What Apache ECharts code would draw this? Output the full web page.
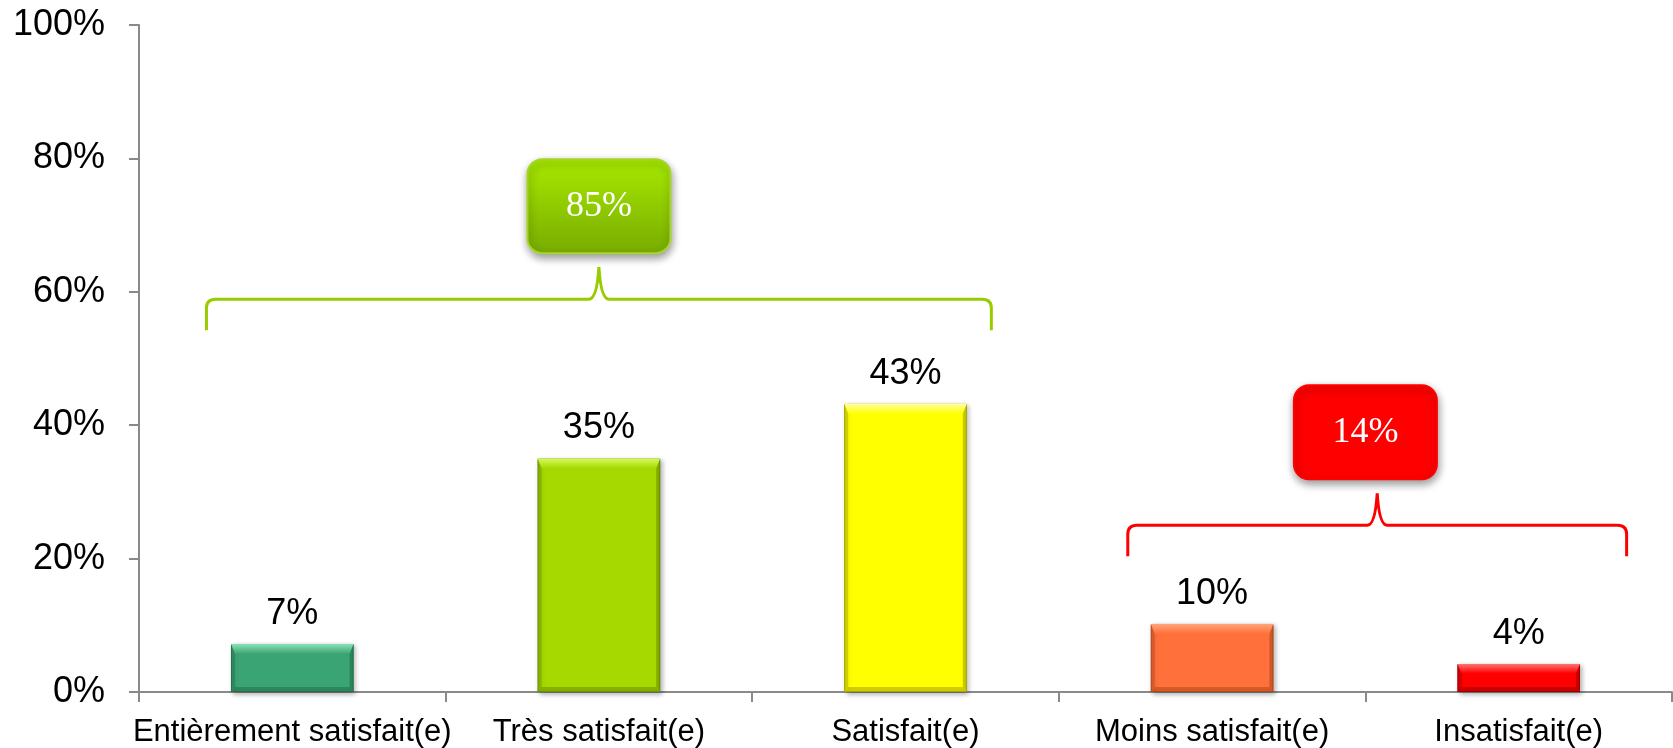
<!DOCTYPE html>
<html>
<head>
<meta charset="utf-8">
<script src="https://cdn.jsdelivr.net/npm/echarts@6/dist/echarts.min.js"></script>
<style>
  html, body { margin: 0; padding: 0; background: #fff; }
  #main { width: 1673px; height: 748px; }
</style>
</head>
<body>
<div id="main"></div>
<script>
// categories and values
var categories = ['Entièrement satisfait(e)', 'Très satisfait(e)', 'Satisfait(e)', 'Moins satisfait(e)', 'Insatisfait(e)'];
var values = [7.2, 35.0, 43.2, 10.2, 4.2];
var valueLabels = ['7%', '35%', '43%', '10%', '4%'];
var yTicks = [0, 20, 40, 60, 80, 100];

// grouped totals shown above the brackets
var groupLabels = ['85%', '14%'];
var groupStart = [0, 3];
var groupEnd = [2, 4];
var groupLevel = [58.9, 25.0];

// styling
var barMain = ['#3ba474', '#a6d900', '#ffff00', '#ff703a', '#ff0000'];
var barLight = ['#8ae2b6', '#d6f85c', '#ffffa0', '#ffa47a', '#ff7474'];
var barDark = ['#22704b', '#6a8f00', '#a5a500', '#b3481a', '#a00000'];
var groupColor = ['#99cc00', '#ff0000'];
var padLeft = [0.28, 0.275];
var padRight = [0.28, 0.352];

var font = "'Liberation Sans', Arial, sans-serif";
var myChart = echarts.init(document.getElementById('main'));

function bevel(params, api) {
    var i = api.value(0), v = api.value(1);
    var top = api.coord([i, v]);
    var base = api.coord([i, 0]);
    var band = api.size([1, 0])[0];
    var w = band * 0.4;
    var l = top[0] - w / 2, r = l + w, t = top[1], b = base[1];
    var h = b - t;
    var bt = Math.min(10, h / 3), bs = 4, bb = Math.min(5, h / 5);
    var k = params.dataIndex;
    return {
        type: 'group',
        silent: true,
        children: [
            { type: 'polygon', shape: { points: [[l, t], [r, t], [r - bs, t + bt], [l + bs, t + bt]] },
              style: { fill: new echarts.graphic.LinearGradient(0, 0, 0, 1, [
                  { offset: 0, color: barLight[k] }, { offset: 1, color: barMain[k] }]) } },
            { type: 'polygon', shape: { points: [[l, t], [l + bs, t + bt], [l + bs, b - bb], [l, b]] },
              style: { fill: barDark[k], opacity: 0.45 } },
            { type: 'polygon', shape: { points: [[r, t], [r - bs, t + bt], [r - bs, b - bb], [r, b]] },
              style: { fill: barDark[k], opacity: 0.6 } },
            { type: 'polygon', shape: { points: [[l, b], [r, b], [r - bs, b - bb], [l + bs, b - bb]] },
              style: { fill: barDark[k], opacity: 0.55 } }
        ]
    };
}

function bracket(params, api) {
    var k = params.dataIndex;
    var band = api.size([1, 0])[0];
    var a = api.coord([groupStart[k], groupLevel[k]]);
    var e = api.coord([groupEnd[k], groupLevel[k]]);
    var x1 = a[0] - padLeft[k] * band;
    var x2 = e[0] + padRight[k] * band;
    var y = a[1];
    var xm = (x1 + x2) / 2;
    var xc = (a[0] + e[0]) / 2;
    var drop = 31, rise = 32, c = 9;
    var d = 'M' + x1 + ' ' + (y + drop) +
        ' L' + x1 + ' ' + (y + c) +
        ' Q' + x1 + ' ' + y + ' ' + (x1 + c) + ' ' + y +
        ' L' + (xm - 10) + ' ' + y +
        ' Q' + (xm - 2) + ' ' + y + ' ' + xm + ' ' + (y - rise) +
        ' Q' + (xm + 2) + ' ' + y + ' ' + (xm + 10) + ' ' + y +
        ' L' + (x2 - c) + ' ' + y +
        ' Q' + x2 + ' ' + y + ' ' + x2 + ' ' + (y + c) +
        ' L' + x2 + ' ' + (y + drop);
    var bw = 143, bh = 94;
    var by = y - rise - 14 - bh;
    var fill = k === 0
        ? new echarts.graphic.LinearGradient(0, 0, 0, 1, [
            { offset: 0, color: '#a8ea00' }, { offset: 1, color: '#78ab00' }])
        : '#ff0000';
    return {
        type: 'group',
        silent: true,
        children: [
            { type: 'path', shape: { pathData: d },
              style: { fill: null, stroke: groupColor[k], lineWidth: 3 } },
            { type: 'rect', shape: { x: xc - bw / 2, y: by, width: bw, height: bh, r: 15 },
              style: { fill: fill, stroke: k === 0 ? '#a4d62a' : '#ff0000', lineWidth: 2,
                       shadowBlur: 8, shadowOffsetY: 4, shadowOffsetX: 1, shadowColor: 'rgba(0,0,0,0.4)' } },
            { type: 'text', x: xc, y: by + bh / 2,
              style: { text: groupLabels[k], fill: '#fff', fontSize: 36,
                       fontFamily: "'Liberation Serif', 'Times New Roman', serif",
                       align: 'center', verticalAlign: 'middle' } }
        ]
    };
}

var option = {
    animation: false,
    grid: { left: 139, right: 1, top: 25, bottom: 56, outerBoundsMode: 'none' },
    xAxis: {
        type: 'category',
        data: categories,
        boundaryGap: true,
        axisLine: { lineStyle: { color: '#8a8a8a', width: 2 } },
        axisTick: { show: true, length: 10, interval: 0, lineStyle: { color: '#8a8a8a', width: 2 } },
        axisLabel: { interval: 0, margin: 25, color: '#000', fontSize: 31, fontFamily: font }
    },
    yAxis: {
        type: 'value',
        min: yTicks[0],
        max: yTicks[yTicks.length - 1],
        interval: yTicks[1] - yTicks[0],
        splitLine: { show: false },
        axisLine: { show: true, lineStyle: { color: '#8a8a8a', width: 2 } },
        axisTick: { show: true, length: 10, lineStyle: { color: '#8a8a8a', width: 2 } },
        axisLabel: { margin: 34, color: '#000', fontSize: 36, fontFamily: font, formatter: '{value}%' }
    },
    series: [{
        type: 'bar',
        barWidth: '40%',
        data: values.map(function (v, i) {
            return {
                value: v,
                itemStyle: { color: barMain[i], borderColor: barDark[i], borderWidth: 1,
                             shadowBlur: 5, shadowOffsetX: 2, shadowOffsetY: 2, shadowColor: 'rgba(0,0,0,0.3)' }
            };
        }),
        label: {
            show: true, position: 'top', distance: 12,
            color: '#000', fontSize: 36, fontFamily: font,
            formatter: function (p) { return valueLabels[p.dataIndex]; }
        }
    }, {
        type: 'custom',
        renderItem: bevel,
        encode: { x: 0, y: 1 },
        data: values.map(function (v, i) { return [i, v]; }),
        z: 3
    }, {
        type: 'custom',
        renderItem: bracket,
        encode: { x: 0, y: 1 },
        data: groupStart.map(function (s, i) { return [s, groupLevel[i]]; }),
        z: 4
    }]
};

myChart.setOption(option);
</script>
</body>
</html>
